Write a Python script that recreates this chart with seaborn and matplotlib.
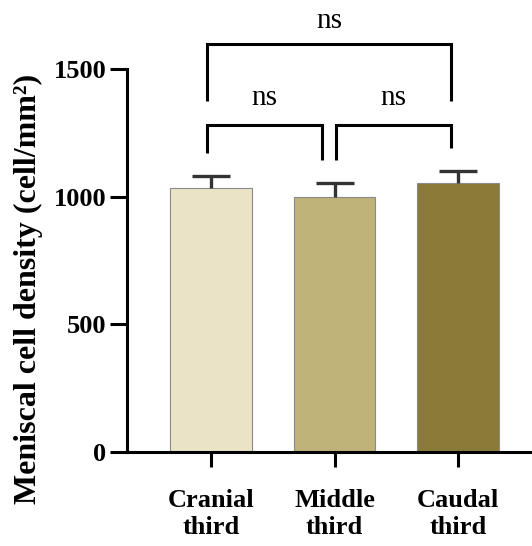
import matplotlib
matplotlib.use("Agg")
import matplotlib.pyplot as plt
import seaborn as sns
import numpy as np
import pandas as pd

# values
groups = ["Cranial\nthird", "Middle\nthird", "Caudal\nthird"]
means = [1034, 999, 1054]
sds = [47, 55, 46]
colors = ["#EAE3C6", "#BFB37A", "#8B7B38"]
yticks = [0, 500, 1000, 1500]
# brackets: (left group, right group, bar height, leg bottoms, label height, label)
brackets = [(0, 1, 1281, (1171, 1144), 1387, "ns"),
            (1, 2, 1281, (1144, 1191), 1387, "ns"),
            (0, 2, 1598, (1375, 1375), 1690, "ns")]

sns.set_theme(style="ticks")
plt.rcParams['font.family'] = ['Liberation Serif', 'DejaVu Serif']
plt.rcParams['text.color'] = 'black'
plt.rcParams['axes.labelcolor'] = 'black'
plt.rcParams['xtick.color'] = 'black'
plt.rcParams['ytick.color'] = 'black'

df = pd.DataFrame({"group": groups, "density": means})

fig = plt.figure(figsize=(5.32, 5.46), dpi=100)
ax = fig.add_axes([0.2387, 0.1722, 0.7573, 0.7014])

sns.barplot(data=df, x="group", y="density", hue="group", palette=colors,
            saturation=1, width=0.66, edgecolor="#8a8a8a", linewidth=0.8,
            legend=False, ax=ax)

x = np.arange(len(groups))
eb = ax.errorbar(x, means, yerr=[np.zeros(len(sds)), sds], fmt="none",
                 ecolor="#333333", elinewidth=2.4, capsize=14, capthick=2.4,
                 zorder=3)
# only the upper cap, as in GraphPad style
eb[1][0].set_visible(False)

lw = 2.2
for g1, g2, h, (b1, b2), th, txt in brackets:
    x1, x2 = g1 - 0.03, g2 - 0.06
    if g2 - g1 == 1:
        if g1 == 0:
            x2 = g2 - 0.1
        else:
            x1 = g1 + 0.01
    ax.plot([x1, x1, x2, x2], [b1, h, h, b2], color="black", lw=lw,
            clip_on=False, solid_capstyle="butt", solid_joinstyle="miter")
    ax.text((x1 + x2) / 2, th, txt, ha="center", va="center",
            fontsize=21, clip_on=False)

ax.set_ylim(0, 1500)
ax.set_xlim(-0.68, 2.58)
ax.set_yticks(yticks)
ax.set_xlabel("")
ax.set_ylabel("Meniscal cell density (cell/mm²)", fontsize=23,
              fontweight="bold")
ax.yaxis.set_label_coords(-0.208, 0.425)
for lab in ax.get_yticklabels() + ax.get_xticklabels():
    lab.set_fontweight("bold")
    lab.set_fontsize(19)
ax.tick_params(axis="y", length=12, width=2.2, pad=3, color="black")
ax.tick_params(axis="x", length=11, width=2.2, pad=16, color="black")

sns.despine(ax=ax)
for s in ["left", "bottom"]:
    ax.spines[s].set_linewidth(2.2)
    ax.spines[s].set_color("black")

fig.savefig("out.png", dpi=100)
